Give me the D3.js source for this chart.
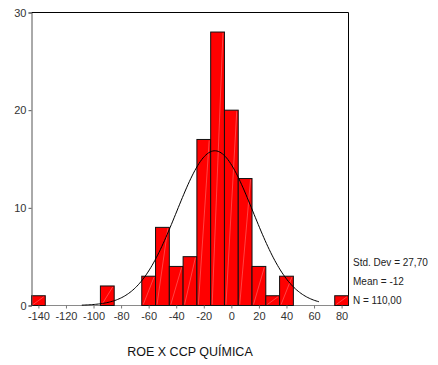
<!DOCTYPE html>
<html><head><meta charset="utf-8">
<script src="https://cdn.jsdelivr.net/npm/d3@7/dist/d3.min.js"></script>
<style>body{margin:0;background:#fff}svg{display:block}text{font-family:"Liberation Sans",Arial,sans-serif}</style>
</head><body>
<script>
const binCenters = [-140,-130,-120,-110,-100,-90,-80,-70,-60,-50,-40,-30,-20,-10,0,10,20,30,40,50,60,70,80];
const counts     = [1,0,0,0,0,2,0,0,3,8,4,5,17,28,20,13,4,1,3,0,0,0,1];
const binWidth = 10;
const xTicks = [-140,-120,-100,-80,-60,-40,-20,0,20,40,60,80];
const yTicks = [0,10,20,30];
const stats = {sd: 27.70, mean: -12, n: 110};
const statLabels = ["Std. Dev = 27,70","Mean = -12","N = 110,00"];
const curveRange = [-108.5, 63.8];
const title = "ROE X CCP QUÍMICA";

const W = 438, H = 365;
const svg = d3.select("body").append("svg").attr("width", W).attr("height", H);
const x = d3.scaleLinear().domain([-145, 85]).range([31.5, 348.5]);
const y = d3.scaleLinear().domain([0, 30]).range([305.5, 12.5]);

// frame top & right
svg.append("line").attr("x1", x(-145)).attr("x2", x(85)).attr("y1", y(30)).attr("y2", y(30)).attr("stroke", "#000");
svg.append("line").attr("x1", x(85)).attr("x2", x(85)).attr("y1", y(30)).attr("y2", y(0)).attr("stroke", "#000");

// baseline
svg.append("line").attr("x1", x(-145)).attr("x2", x(85)).attr("y1", y(0)).attr("y2", y(0)).attr("stroke", "#8a8a8a").attr("stroke-width", 1.2);

// bars
const bins = binCenters.map((c, i) => ({c, v: counts[i]})).filter(d => d.v > 0);
const g = svg.append("g");
bins.forEach(d => {
  const x0 = x(d.c - binWidth/2), x1 = x(d.c + binWidth/2);
  g.append("rect").attr("x", x0).attr("y", y(d.v)).attr("width", x1 - x0).attr("height", y(0) - y(d.v))
    .attr("fill", "#ff0000").attr("stroke", "#111").attr("stroke-width", 1);
  g.append("line").attr("x1", x0 + 1.5).attr("y1", y(0) - 1).attr("x2", x1 - 1.5).attr("y2", y(d.v) + 1)
    .attr("stroke", "#ffaaaa").attr("stroke-width", 0.5).attr("opacity", 0.8);
});

const fmt = d => String(d);

// y axis
const yAxis = d3.axisLeft(y).tickValues(yTicks).tickSize(3).tickPadding(2).tickFormat(fmt);
const ya = svg.append("g").attr("transform", `translate(${x(-145)},0)`).call(yAxis);
ya.select(".domain").attr("stroke", "#555");
ya.selectAll(".tick line").attr("stroke", "#555");
ya.selectAll("text").attr("font-size", 11).attr("fill", "#333").attr("font-family", "Liberation Sans, Arial");

// x axis
const xAxis = d3.axisBottom(x).tickValues(xTicks).tickSize(3).tickPadding(4).tickFormat(fmt);
const xa = svg.append("g").attr("transform", `translate(0,${y(0)})`).call(xAxis);
xa.select(".domain").remove();
xa.selectAll(".tick line").attr("stroke", "#777");
xa.selectAll("text").attr("font-size", 11).attr("fill", "#333").attr("font-family", "Liberation Sans, Arial");

// normal curve
const pts = d3.range(curveRange[0], curveRange[1] + 0.01, 1).map(v => {
  const z = (v - stats.mean) / stats.sd;
  return [v, stats.n * binWidth / (stats.sd * Math.sqrt(2 * Math.PI)) * Math.exp(-0.5 * z * z)];
});
svg.append("path").datum(pts)
  .attr("d", d3.line().x(d => x(d[0])).y(d => y(d[1])))
  .attr("fill", "none").attr("stroke", "#000").attr("stroke-width", 1);

// stats
statLabels.forEach((t, i) => {
  svg.append("text").attr("x", 353).attr("y", 265.5 + i * 19).attr("font-size", 10).attr("fill", "#222").text(t);
});

// title
svg.append("text").attr("x", 190).attr("y", 356).attr("text-anchor", "middle").attr("font-size", 12.5)
  .attr("fill", "#111").text(title);
</script>
</body></html>
